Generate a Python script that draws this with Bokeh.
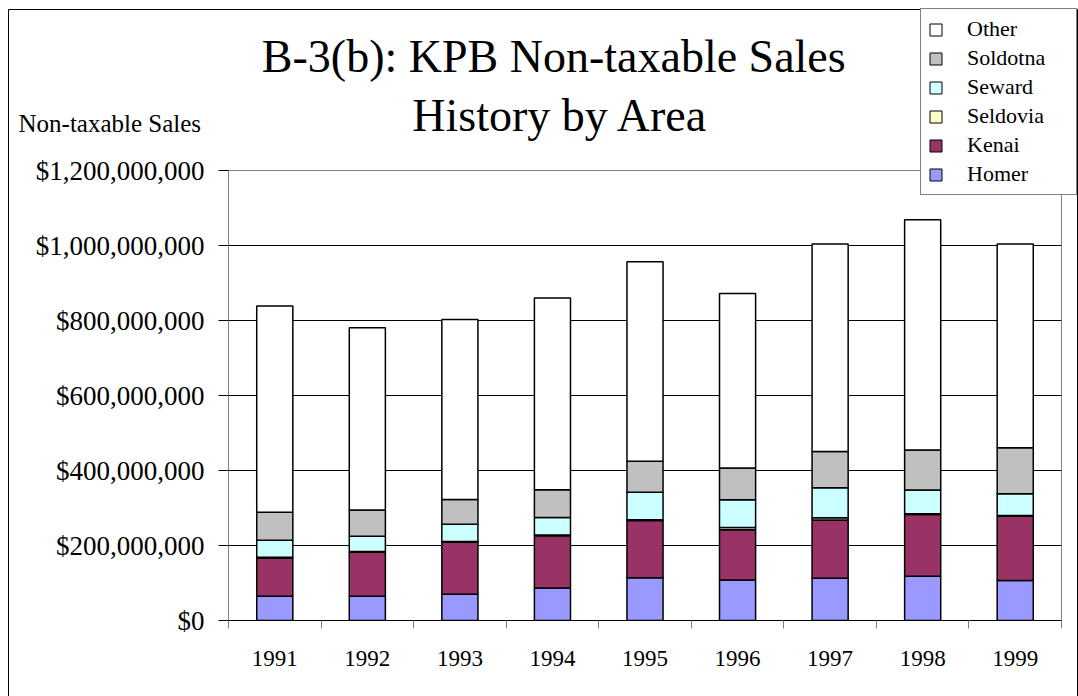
from bokeh.plotting import figure
from bokeh.layouts import column
from bokeh.models import (ColumnDataSource, Range1d, FixedTicker, NumeralTickFormatter,
                          Legend, LegendItem, Label, BoxAnnotation)
from bokeh.core.properties import value
from bokeh.embed import file_html
from bokeh.resources import INLINE

# ---- data (values in millions of dollars) ----
years = ["1991", "1992", "1993", "1994", "1995", "1996", "1997", "1998", "1999"]
homer = [65, 65, 70, 87, 114, 108, 113, 118, 107]
kenai = [102, 117, 139, 139, 153, 134, 155, 165, 171]
seldovia = [2, 2, 2, 2, 2, 6, 6, 2, 2]
seward = [45, 41, 46, 47, 73, 74, 80, 63, 58]
soldotna = [75, 70, 66, 74, 83, 85, 97, 107, 123]
other = [550, 486, 480, 511, 532, 465, 553, 614, 543]

series_names = ["Homer", "Kenai", "Seldovia", "Seward", "Soldotna", "Other"]
series_vals = [homer, kenai, seldovia, seward, soldotna, other]
colors = ["#9999FF", "#993366", "#FFFFCC", "#CCFFFF", "#C0C0C0", "#FFFFFF"]
y_ticks = [0, 200e6, 400e6, 600e6, 800e6, 1000e6, 1200e6]

title_line1 = "B-3(b):  KPB Non-taxable Sales"
title_line2 = "History by Area"
y_label = "Non-taxable Sales"

FONT = "Liberation Serif"
W, H = 1078, 696

xpos = [i + 0.5 for i in range(len(years))]
data = {"x": xpos}
for name, vals in zip(series_names, series_vals):
    data[name] = [v * 1e6 for v in vals]
src = ColumnDataSource(data)

# ---------------- main chart ----------------
p = figure(width=W, height=H, output_backend="svg", toolbar_location=None,
           x_range=Range1d(0, len(years)), y_range=Range1d(0, 1.2e9),
           min_border_left=228, min_border_right=17, min_border_top=170,
           min_border_bottom=76)
p.outline_line_color = "#808080"
p.background_fill_color = "white"
p.border_fill_color = "white"

p.vbar_stack(series_names, x="x", width=0.39, source=src,
             fill_color=colors, line_color="black", line_width=1.5)

p.xgrid.visible = False
p.ygrid.grid_line_color = "black"
p.ygrid.grid_line_width = 1
p.ygrid.ticker = FixedTicker(ticks=y_ticks)

p.yaxis.ticker = FixedTicker(ticks=y_ticks, minor_ticks=[])
p.yaxis.formatter = NumeralTickFormatter(format="$0,0")
p.yaxis.major_tick_out = 10
p.yaxis.major_tick_in = 0
p.yaxis.major_label_standoff = 14
p.yaxis.major_label_text_font = FONT
p.yaxis.major_label_text_font_size = "27px"
p.yaxis.major_label_text_color = "black"
p.yaxis.axis_line_color = "#808080"
p.yaxis.major_tick_line_color = "black"

p.xaxis.ticker = FixedTicker(ticks=xpos, minor_ticks=list(range(len(years) + 1)))
p.xaxis.major_label_overrides = {x: y for x, y in zip(xpos, years)}
p.xaxis.major_tick_out = 0
p.xaxis.major_tick_in = 0
p.xaxis.minor_tick_out = 8
p.xaxis.minor_tick_in = 0
p.xaxis.minor_tick_line_color = "#808080"
p.xaxis.axis_line_color = "black"
p.xaxis.major_label_standoff = 22
p.xaxis.major_label_text_font = FONT
p.xaxis.major_label_text_font_size = "23px"
p.xaxis.major_label_text_color = "black"

# ------------- transparent overlay for title, axis title, legend and chart border -------------
# Its plot frame covers the whole canvas (pixel coordinates, y downwards), so nothing is clipped.
q = figure(width=W, height=H, output_backend="svg", toolbar_location=None,
           x_range=Range1d(0, W), y_range=Range1d(H, 0), min_border=0,
           x_axis_type=None, y_axis_type=None)
q.grid.visible = False
q.outline_line_color = None
q.background_fill_alpha = 0
q.border_fill_alpha = 0
q.styles = {"position": "absolute", "top": "0px", "left": "0px"}
for fig in (p, q):
    if hasattr(fig, "frame_align"):
        fig.frame_align = False

# chart border
q.add_layout(BoxAnnotation(left=8, right=1077, top=9, bottom=H + 10,
                           fill_alpha=0, line_color="black", line_width=1, line_alpha=1))

q.add_layout(Label(x=559, y=56, text=title_line1, text_align="center",
                   text_baseline="middle", text_font=FONT,
                   text_font_size="46px", text_color="black"))
q.add_layout(Label(x=560, y=115, text=title_line2, text_align="center",
                   text_baseline="middle", text_font=FONT,
                   text_font_size="46px", text_color="black"))
q.add_layout(Label(x=18, y=123, text=y_label, text_align="left",
                   text_baseline="middle", text_font=FONT,
                   text_font_size="25px", text_color="black"))

# hidden copies of the stacked series, used only as legend swatches
swatches = q.vbar_stack(series_names, x="x", width=0.39, source=src,
                        fill_color=colors, line_color="black", line_width=1,
                        visible=False)
items = [LegendItem(label=value(n), renderers=[r]) for n, r in zip(series_names, swatches)][::-1]
legend = Legend(items=items, location=(920, 501), label_text_font=FONT,
                label_text_font_size="22px", label_text_color="black",
                glyph_width=15, glyph_height=15, label_standoff=24,
                label_width=102, label_height=17, spacing=3, padding=7, margin=0,
                border_line_color="black", border_line_width=1,
                background_fill_color="white", background_fill_alpha=1,
                inactive_fill_alpha=0)
q.add_layout(legend, "center")

layout = column(p, q)
layout.styles = {"position": "relative"}

open("out.html", "w").write(file_html(layout, INLINE))
